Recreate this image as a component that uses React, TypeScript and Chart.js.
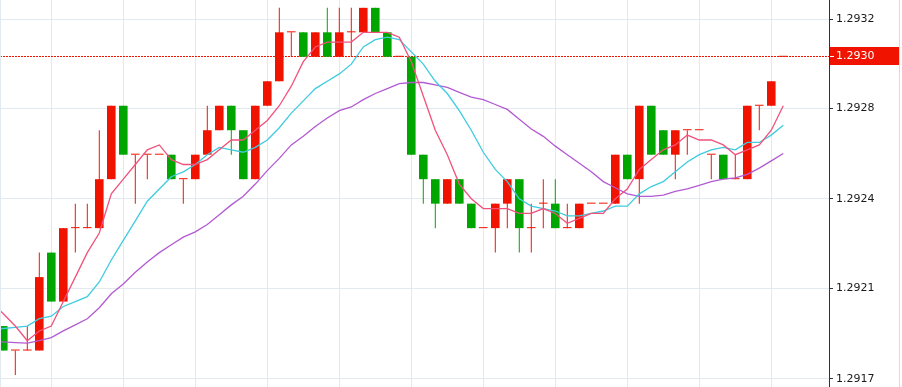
import React, { useEffect, useRef } from 'react';
import { Chart, registerables } from 'chart.js';

Chart.register(...registerables);

// ---- candle data (one entry per bar, oldest first) ----
const opens = [
  1.2919, 1.2918, 1.2918, 1.2918, 1.2922, 1.2920, 1.2923, 1.2923, 1.2923, 1.2925,
  1.2928, 1.2926, 1.2926, 1.2926, 1.2926, 1.2925, 1.2925, 1.2926, 1.2927, 1.2928,
  1.2927, 1.2925, 1.2928, 1.2929, 1.2931, 1.2931, 1.2930, 1.2931, 1.2930, 1.2931,
  1.2931, 1.2932, 1.2931, 1.2930, 1.2930, 1.2926, 1.2925, 1.2924, 1.2925, 1.2924,
  1.2923, 1.2923, 1.2924, 1.2925, 1.2923, 1.2924, 1.2924, 1.2923, 1.2923, 1.2924,
  1.2924, 1.2924, 1.2926, 1.2925, 1.2928, 1.2927, 1.2926, 1.2927, 1.2927, 1.2926,
  1.2926, 1.2925, 1.2925, 1.2928, 1.2928, 1.2930,
];
const highs = [
  1.2919, 1.2918, 1.2919, 1.2922, 1.2922, 1.2923, 1.2924, 1.2924, 1.2927, 1.2928,
  1.2928, 1.2926, 1.2926, 1.2926, 1.2926, 1.2925, 1.2926, 1.2928, 1.2928, 1.2928,
  1.2927, 1.2928, 1.2929, 1.2932, 1.2931, 1.2931, 1.2931, 1.2932, 1.2932, 1.2932,
  1.2932, 1.2932, 1.2931, 1.2930, 1.2930, 1.2926, 1.2925, 1.2925, 1.2925, 1.2924,
  1.2923, 1.2924, 1.2925, 1.2925, 1.2924, 1.2925, 1.2925, 1.2924, 1.2924, 1.2924,
  1.2924, 1.2926, 1.2926, 1.2928, 1.2928, 1.2927, 1.2927, 1.2927, 1.2927, 1.2926,
  1.2926, 1.2926, 1.2928, 1.2928, 1.2929, 1.2930,
];
const lows = [
  1.2918, 1.2917, 1.2918, 1.2918, 1.2920, 1.2920, 1.2922, 1.2923, 1.2923, 1.2925,
  1.2926, 1.2924, 1.2925, 1.2926, 1.2925, 1.2924, 1.2925, 1.2926, 1.2927, 1.2926,
  1.2925, 1.2925, 1.2928, 1.2929, 1.2930, 1.2930, 1.2930, 1.2930, 1.2930, 1.2930,
  1.2931, 1.2931, 1.2930, 1.2930, 1.2926, 1.2924, 1.2923, 1.2924, 1.2924, 1.2923,
  1.2923, 1.2922, 1.2923, 1.2922, 1.2922, 1.2923, 1.2923, 1.2923, 1.2923, 1.2924,
  1.2924, 1.2924, 1.2925, 1.2924, 1.2926, 1.2926, 1.2925, 1.2926, 1.2927, 1.2925,
  1.2925, 1.2925, 1.2925, 1.2927, 1.2928, 1.2930,
];
const closes = [
  1.2918, 1.2918, 1.2918, 1.2921, 1.2920, 1.2923, 1.2923, 1.2923, 1.2925, 1.2928,
  1.2926, 1.2926, 1.2926, 1.2926, 1.2925, 1.2925, 1.2926, 1.2927, 1.2928, 1.2927,
  1.2925, 1.2928, 1.2929, 1.2931, 1.2931, 1.2930, 1.2931, 1.2930, 1.2931, 1.2931,
  1.2932, 1.2931, 1.2930, 1.2930, 1.2926, 1.2925, 1.2924, 1.2925, 1.2924, 1.2923,
  1.2923, 1.2924, 1.2925, 1.2923, 1.2923, 1.2924, 1.2923, 1.2923, 1.2924, 1.2924,
  1.2924, 1.2926, 1.2925, 1.2928, 1.2926, 1.2926, 1.2927, 1.2927, 1.2927, 1.2926,
  1.2925, 1.2925, 1.2928, 1.2928, 1.2929, 1.2930,
];

// ---- moving averages (first value is one bar before the first candle) ----
const maStartIndex = -1;
const maFast = [
  1.29200,
  1.29195, 1.29190, 1.29184, 1.29188, 1.29190, 1.29200, 1.29210, 1.29220, 1.29228, 1.29244,
  1.29250, 1.29256, 1.29262, 1.29264, 1.29258, 1.29256, 1.29256, 1.29258, 1.29262, 1.29266,
  1.29266, 1.29270, 1.29274, 1.29280, 1.29288, 1.29298, 1.29304, 1.29306, 1.29306, 1.29306,
  1.29310, 1.29310, 1.29310, 1.29308, 1.29298, 1.29284, 1.29270, 1.29260, 1.29248, 1.29242,
  1.29238, 1.29238, 1.29238, 1.29236, 1.29236, 1.29238, 1.29236, 1.29232, 1.29234, 1.29236,
  1.29236, 1.29242, 1.29246, 1.29254, 1.29258, 1.29262, 1.29264, 1.29268, 1.29266, 1.29266,
  1.29264, 1.29260, 1.29262, 1.29264, 1.29270, 1.29280,
];
const maMid = [
  1.291885,
  1.29189, 1.291895, 1.29190, 1.29193, 1.29194, 1.29198, 1.29200, 1.29202, 1.29208, 1.29217,
  1.29225, 1.29233, 1.29241, 1.29246, 1.29251, 1.29253, 1.29256, 1.29260, 1.29263, 1.29262,
  1.29261, 1.29263, 1.29266, 1.29271, 1.29277, 1.29282, 1.29287, 1.29290, 1.29293, 1.29297,
  1.29304, 1.29307, 1.29308, 1.29307, 1.29302, 1.29297, 1.29290, 1.29285, 1.29278, 1.29270,
  1.29261, 1.29254, 1.29249, 1.29242, 1.29239, 1.29238, 1.29237, 1.29235, 1.29235, 1.29236,
  1.29237, 1.29239, 1.29239, 1.29244, 1.29247, 1.29249, 1.29253, 1.29257, 1.29260, 1.29262,
  1.29263, 1.29262, 1.29265, 1.29265, 1.29268, 1.29272,
];
const maSlow = [
  1.29184,
  1.291835, 1.291832, 1.29183, 1.29184, 1.291853, 1.29188, 1.291905, 1.29193, 1.291975, 1.292032,
  1.292072, 1.29212, 1.292162, 1.2922, 1.292232, 1.292263, 1.292285, 1.292315, 1.292355, 1.292395,
  1.29243, 1.29248, 1.292535, 1.292585, 1.29264, 1.292675, 1.292715, 1.29275, 1.29278, 1.292795,
  1.292825, 1.29285, 1.29287, 1.29289, 1.292895, 1.292895, 1.292885, 1.292875, 1.292855, 1.292835,
  1.292825, 1.292805, 1.292785, 1.292745, 1.292705, 1.292675, 1.292635, 1.2926, 1.292565, 1.29253,
  1.29249, 1.292465, 1.29244, 1.29243, 1.29243, 1.292435, 1.29245, 1.29246, 1.292475, 1.29249,
  1.2925, 1.292505, 1.29252, 1.292545, 1.292575, 1.292605,
];

// ---- axes ----
const yTickValues = [1.291685, 1.292053, 1.29242, 1.292789, 1.293154];
const yTickLabels = ['1.2917', '1.2921', '1.2924', '1.2928', '1.2932'];
const xGridIndices = [4, 10, 16, 22, 28, 34, 40, 46, 52, 58, 64];
const currentPrice = 1.293;
const currentPriceLabel = '1.2930';

const UP = '#f01400';
const DOWN = '#00a600';
const PINK = '#f0527c';
const CYAN = '#3fcbe0';
const PURPLE = '#b35ad2';
const GRID = '#e2e9ef';
const AXIS = '#333333';
const FONT = 'DejaVu Sans';

const overlay = {
  id: 'priceOverlay',
  beforeDatasetsDraw(chart: any) {
    const { ctx, chartArea, scales } = chart;
    const py = Math.floor(scales.y.getPixelForValue(currentPrice)) + 0.5;
    ctx.save();
    ctx.strokeStyle = UP;
    ctx.lineWidth = 1;
    ctx.setLineDash([2, 1]);
    ctx.beginPath();
    ctx.moveTo(chartArea.left, py);
    ctx.lineTo(chartArea.right, py);
    ctx.stroke();
    ctx.restore();
  },
  afterDraw(chart: any) {
    const { ctx, chartArea, scales, height } = chart;
    const py = scales.y.getPixelForValue(currentPrice);
    ctx.save();
    ctx.fillStyle = UP;
    ctx.fillRect(chartArea.right + 1, Math.round(py) - 10, 69, 18);
    ctx.fillStyle = '#ffffff';
    ctx.fillRect(chartArea.right + 1, Math.floor(py), 4, 1);
    ctx.font = `11px "${FONT}"`;
    ctx.textBaseline = 'middle';
    ctx.textAlign = 'left';
    ctx.fillText(currentPriceLabel, chartArea.right + 7, Math.round(py) - 0.5);
    ctx.fillStyle = '#dcdcdc';
    ctx.fillRect(chartArea.right + 70, 0, 1, height);
    ctx.fillStyle = GRID;
    ctx.fillRect(0, 0, 1, height);
    ctx.restore();
  },
};

export default function App() {
  const ref = useRef<HTMLCanvasElement>(null);

  useEffect(() => {
    const canvas = ref.current;
    if (!canvas) return;
    const colors = opens.map((o, i) => (closes[i] < o ? DOWN : UP));
    const bodyData = opens.map((o, i) => ({ x: i, y: [o, closes[i]] }));
    const wickData = highs.map((h, i) => ({ x: i, y: [lows[i], h] }));
    const lineData = (arr: number[]) => arr.map((v, k) => ({ x: k + maStartIndex, y: v }));
    const lineDs = (arr: number[], color: string) => ({
      type: 'line' as const,
      data: lineData(arr),
      borderColor: color,
      borderWidth: 1.3,
      pointRadius: 0,
      tension: 0,
      fill: false,
      order: 0,
    });

    const chart = new Chart(canvas, {
      type: 'bar',
      data: {
        datasets: [
          lineDs(maFast, PINK),
          lineDs(maMid, CYAN),
          lineDs(maSlow, PURPLE),
          {
            type: 'bar',
            data: bodyData as any,
            backgroundColor: colors,
            barThickness: 8.6,
            minBarLength: 1,
            grouped: false,
            inflateAmount: 0,
            borderWidth: 0,
            order: 1,
          } as any,
          {
            type: 'bar',
            data: wickData as any,
            backgroundColor: colors,
            barThickness: 1,
            grouped: false,
            inflateAmount: 0,
            borderWidth: 0,
            order: 2,
          } as any,
        ],
      },
      options: {
        animation: false,
        responsive: false,
        events: [],
        layout: { padding: 0 },
        plugins: { legend: { display: false }, tooltip: { enabled: false } },
        scales: {
          x: {
            type: 'linear',
            min: -0.275,
            max: 68.81,
            offset: false,
            position: 'bottom',
            afterBuildTicks: (s: any) => {
              s.ticks = xGridIndices.map((v) => ({ value: v }));
            },
            afterFit: (s: any) => {
              s.height = 0;
              s.paddingLeft = 0;
              s.paddingRight = 0;
            },
            ticks: { display: false },
            border: { display: false },
            grid: { color: GRID, drawTicks: false, offset: false, lineWidth: 1 },
          },
          y: {
            type: 'linear',
            position: 'right',
            min: 1.291651,
            max: 1.293232,
            afterBuildTicks: (s: any) => {
              s.ticks = yTickValues.map((v) => ({ value: v }));
            },
            afterFit: (s: any) => {
              s.width = 73;
              s.paddingTop = 0;
              s.paddingBottom = 0;
            },
            ticks: {
              callback: (_v: any, i: number) => yTickLabels[i],
              font: { family: FONT, size: 11 },
              color: '#1a1a1a',
              padding: 3,
            },
            grid: { color: GRID, tickColor: AXIS, tickLength: 4, lineWidth: 1 },
            border: { display: true, color: AXIS, width: 1 },
          },
        },
      } as any,
      plugins: [overlay],
    });
    return () => chart.destroy();
  }, []);

  return (
    <div style={{ position: 'absolute', left: 0, top: 0, width: 902, height: 387, background: '#ffffff' }}>
      <canvas ref={ref} width={902} height={387} style={{ display: 'block' }} />
    </div>
  );
}
